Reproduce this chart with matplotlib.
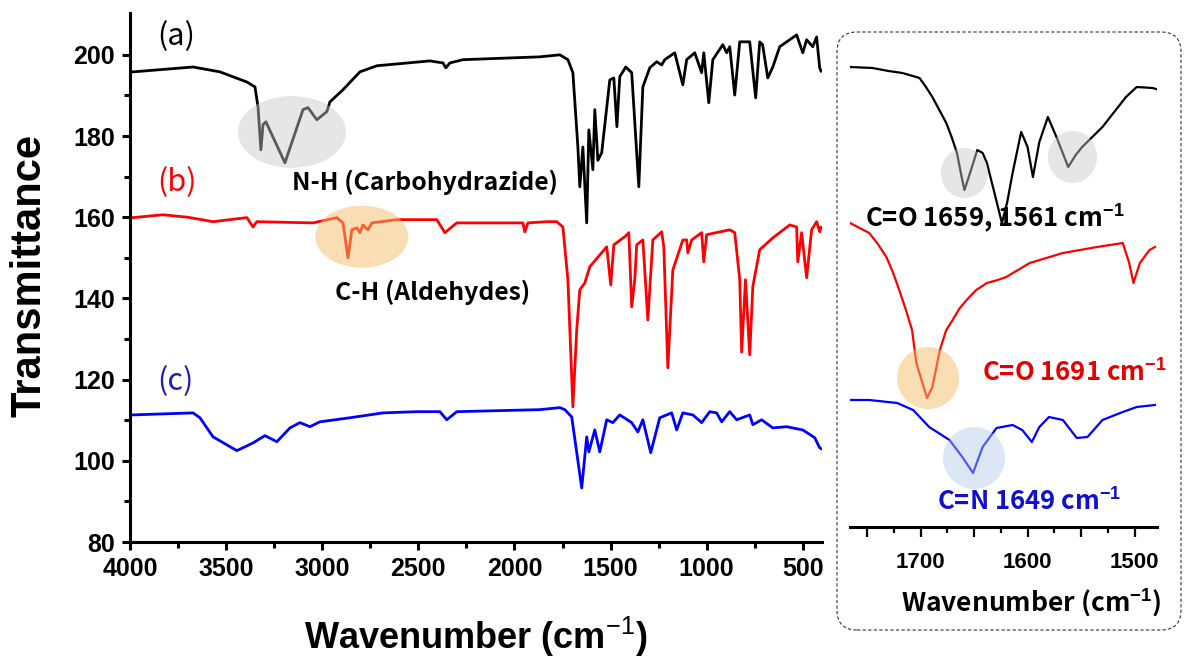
import matplotlib
matplotlib.use("Agg")
import matplotlib.pyplot as plt
from matplotlib.patches import Ellipse, FancyBboxPatch
import numpy as np

plt.rcParams['font.family'] = ['Liberation Sans', 'DejaVu Sans']
plt.rcParams['mathtext.fontset'] = 'custom'
plt.rcParams['mathtext.rm'] = 'Liberation Sans'
plt.rcParams['mathtext.bf'] = 'Liberation Sans:bold'
KR = ['Noto Sans CJK KR', 'DejaVu Sans']

# ---- main spectra (wavenumber, transmittance) ----
spec_a = [(4000, 195.8), (3984, 195.8), (3672, 197.0), (3532, 195.8), (3392, 193.3), (3350, 192.1),
          (3334, 187.2), (3319, 176.6), (3308, 182.8), (3293, 183.5), (3194, 173.4), (3100, 186.5),
          (3074, 187.0), (3028, 184.0), (2976, 186.0), (2960, 188.4), (2892, 191.4), (2804, 195.8),
          (2716, 197.3), (2440, 198.5), (2372, 198.0), (2357, 196.8), (2336, 198.0), (2268, 198.8),
          (1868, 199.5), (1764, 200.0), (1722, 198.8), (1696, 195.6), (1670, 177.3), (1660, 167.5),
          (1644, 177.3), (1624, 158.6), (1613, 181.5), (1592, 171.7), (1582, 186.5), (1566, 174.0),
          (1546, 175.9), (1504, 193.8), (1483, 194.3), (1467, 182.3), (1452, 194.6), (1421, 197.0),
          (1390, 195.6), (1353, 167.5), (1332, 192.1), (1296, 196.8), (1260, 198.3), (1234, 197.5),
          (1218, 198.8), (1166, 200.5), (1124, 192.6), (1104, 198.8), (1062, 200.5), (1026, 195.6),
          (1015, 200.5), (989, 188.2), (968, 198.8), (916, 202.5), (896, 200.5), (880, 202.0),
          (854, 190.1), (828, 203.2), (776, 203.2), (745, 189.4), (724, 203.2), (709, 202.5),
          (682, 194.3), (656, 197.0), (620, 202.0), (532, 204.9), (500, 200.5), (480, 203.7),
          (448, 202.0), (428, 204.4), (412, 196.8), (405, 196.0)]

spec_b = [(4000, 159.9), (3984, 159.9), (3828, 160.6), (3700, 160.0), (3568, 158.9), (3392, 159.9),
          (3360, 157.6), (3340, 158.9), (3048, 158.6), (2924, 159.9), (2892, 158.6), (2866, 150.0),
          (2846, 156.9), (2820, 157.4), (2804, 156.2), (2788, 158.1), (2762, 156.9), (2742, 158.6),
          (2612, 159.4), (2404, 159.4), (2362, 156.2), (2300, 158.6), (1956, 158.6), (1946, 156.4),
          (1930, 158.6), (1832, 158.9), (1780, 158.9), (1748, 157.6), (1722, 144.6), (1696, 113.3),
          (1676, 132.3), (1660, 142.1), (1634, 143.8), (1608, 147.8), (1520, 152.7), (1499, 143.3),
          (1483, 153.2), (1426, 155.2), (1405, 156.2), (1390, 137.9), (1374, 144.6), (1364, 153.2),
          (1332, 154.4), (1306, 134.7), (1280, 154.4), (1234, 156.4), (1223, 152.7), (1202, 122.9),
          (1176, 147.0), (1124, 154.4), (1104, 154.4), (1098, 151.2), (1078, 154.4), (1026, 156.2),
          (1015, 149.0), (1000, 155.7), (880, 156.9), (854, 156.2), (828, 144.6), (818, 126.8),
          (798, 144.6), (776, 126.1), (760, 142.9), (724, 152.0), (656, 154.9), (568, 158.1),
          (532, 157.6), (526, 149.0), (506, 156.2), (480, 145.1), (454, 156.9), (428, 158.9),
          (412, 156.4), (405, 157.5)]

spec_c = [(4000, 111.3), (3990, 111.3), (3672, 111.8), (3636, 110.6), (3568, 105.9), (3444, 102.5),
          (3360, 104.4), (3298, 106.2), (3236, 104.7), (3168, 108.1), (3116, 109.4), (3064, 108.4),
          (3012, 109.6), (2856, 110.6), (2684, 111.8), (2508, 112.1), (2388, 112.1), (2352, 110.1),
          (2300, 112.1), (1868, 112.6), (1764, 113.1), (1738, 112.6), (1702, 110.8), (1650, 93.3),
          (1624, 105.9), (1613, 102.2), (1582, 107.6), (1556, 102.2), (1520, 110.1), (1488, 109.4),
          (1452, 111.3), (1390, 109.4), (1358, 107.1), (1332, 110.1), (1291, 102.0), (1244, 110.6),
          (1182, 111.8), (1156, 107.6), (1124, 111.8), (1072, 111.3), (1026, 109.4), (984, 112.1),
          (948, 111.8), (922, 109.6), (880, 112.1), (844, 110.1), (776, 111.3), (760, 108.9),
          (714, 110.1), (656, 108.1), (584, 108.4), (500, 107.6), (438, 105.7), (412, 103.2),
          (405, 103.0)]

# ---- inset (1766-1480 cm-1), arbitrary offset units ----
ins_a = [(1766, 460), (1745, 459), (1730, 456), (1717, 454), (1701, 449), (1695, 440), (1689, 430),
         (1683, 418), (1676, 404), (1671, 390), (1666, 374), (1662, 352), (1659, 337), (1655, 350),
         (1652, 360), (1647, 377), (1642, 374), (1638, 364), (1630, 330), (1624, 304), (1619, 325),
         (1614, 354), (1606, 395), (1600, 380), (1595, 350), (1589, 385), (1581, 410), (1573, 390),
         (1562, 360), (1555, 372), (1549, 380), (1530, 400), (1508, 430), (1498, 440), (1483, 439),
         (1480, 438)]
ins_b = [(1766, 304), (1748, 294), (1740, 283), (1732, 270), (1726, 255), (1720, 237), (1714, 218),
         (1708, 197), (1704, 164), (1694, 129), (1689, 140), (1682, 177), (1676, 197), (1670, 207),
         (1664, 218), (1657, 227), (1648, 237), (1638, 244), (1628, 247), (1620, 250), (1598, 264),
         (1567, 274), (1535, 280), (1511, 284), (1505, 264), (1501, 244), (1495, 264), (1486, 277),
         (1481, 280)]
ins_c = [(1766, 127), (1748, 127), (1722, 124), (1707, 117), (1692, 100), (1673, 87), (1661, 70),
         (1651, 54), (1642, 80), (1629, 99), (1614, 102), (1605, 97), (1596, 85), (1589, 100),
         (1580, 110), (1567, 107), (1554, 89), (1544, 90), (1530, 107), (1511, 115), (1498, 120),
         (1481, 122)]

W, H = 1187, 661
fig = plt.figure(figsize=(W / 100, H / 100), dpi=100)

# ---------------- main panel ----------------
ax = fig.add_axes([130 / W, 1 - 542 / H, (822 - 130) / W, (542 - 13) / H])
for pts, col in [(spec_a, 'black'), (spec_b, '#ff0000'), (spec_c, '#0000ff')]:
    x, y = zip(*pts)
    ax.plot(x, y, color=col, lw=2.0)

ax.add_patch(Ellipse((3158, 181), 562, 17.7, color='#c8c8c8', alpha=0.45, lw=0, zorder=3))
ax.add_patch(Ellipse((2794, 155.2), 484, 15.3, color='#f5be69', alpha=0.5, lw=0, zorder=3))

ax.set_xlim(4000, 400)
ax.set_ylim(80, 210.3)
ax.set_xticks([4000, 3500, 3000, 2500, 2000, 1500, 1000, 500])
ax.set_xticks(np.arange(3750, 400, -500), minor=True)
ax.set_yticks([80, 100, 120, 140, 160, 180, 200])
ax.set_yticks([90, 110, 130, 150, 170, 190], minor=True)
for s in ['top', 'right']:
    ax.spines[s].set_visible(False)
for s in ['left', 'bottom']:
    ax.spines[s].set_linewidth(2.2)
ax.tick_params(which='major', direction='out', length=6, width=2.2, labelsize=18, pad=5)
ax.tick_params(which='minor', direction='out', length=4, width=2.2)
for lab in ax.get_xticklabels() + ax.get_yticklabels():
    lab.set_fontweight('bold')

ax.text(3860, 204.4, '(a)', color='black', fontsize=22, family=KR, va='center')
ax.text(3860, 168.5, '(b)', color='#ff0000', fontsize=22, family=KR, va='center')
ax.text(3860, 119.5, '(c)', color='#1f1fb0', fontsize=22, family=KR, va='center')
ax.text(3158, 168.7, 'N-H (Carbohydrazide)', fontsize=17.8, family=KR, fontweight='bold', va='center')
ax.text(2934, 141.4, 'C-H (Aldehydes)', fontsize=17.8, family=KR, fontweight='bold', va='center')

fig.text(476 / W, 1 - 637 / H, 'Wavenumber (cm$^{-1}$)', fontsize=26, fontweight='bold',
         ha='center', va='center')
fig.text(30 / W, 1 - 275 / H, 'Transmittance', fontsize=30, fontweight='bold',
         rotation=90, ha='center', va='center')

# ---------------- inset panel ----------------
ia = fig.add_axes([850 / W, 1 - 527 / H, (1157 - 850) / W, (527 - 40) / H])
for pts, col in [(ins_a, 'black'), (ins_b, '#ff0000'), (ins_c, '#0000ff')]:
    x, y = zip(*pts)
    ia.plot(x, y, color=col, lw=1.6)

ia.add_patch(Ellipse((1659, 354), 44, 50, color='#c8c8c8', alpha=0.45, lw=0, zorder=3))
ia.add_patch(Ellipse((1558, 370), 46, 52, color='#c8c8c8', alpha=0.45, lw=0, zorder=3))
ia.add_patch(Ellipse((1693, 149), 58, 62, color='#f5be69', alpha=0.5, lw=0, zorder=3))
ia.add_patch(Ellipse((1650, 69), 58, 62, color='#b4c8eb', alpha=0.45, lw=0, zorder=3))

ia.set_xlim(1766, 1479)
ia.set_ylim(0, 487)
ia.set_xticks([1750, 1700, 1650, 1600, 1550, 1500])
ia.set_xticklabels(['', '1700', '', '1600', '', '1500'])
ia.set_xticks([1725, 1675, 1625, 1575, 1525], minor=True)
ia.set_yticks([])
for s in ['top', 'right', 'left']:
    ia.spines[s].set_visible(False)
ia.spines['bottom'].set_linewidth(2.2)
ia.tick_params(which='major', direction='out', length=7, width=1.6, labelsize=16, pad=11)
ia.tick_params(which='minor', direction='out', length=4, width=1.6)
for lab in ia.get_xticklabels():
    lab.set_fontweight('bold')
ia.patch.set_alpha(0)

sup = '$^{\\mathbf{-1}}$'
ia.text(1752, 309, 'C=O 1659, 1561 cm' + sup, fontsize=18.5, family=KR, fontweight='bold',
        va='center', zorder=5)
ia.text(1643, 154, 'C=O 1691 cm' + sup, fontsize=18.5, family=KR, fontweight='bold',
        color='#e60000', va='center')
ia.text(1685, 25, 'C=N 1649 cm' + sup, fontsize=18.5, family=KR, fontweight='bold',
        color='#1010d0', va='center')

fig.text(1031 / W, 1 - 603 / H, 'Wavenumber (cm' + sup + ')', fontsize=19, family=KR,
         fontweight='bold', ha='center', va='center')

box = FancyBboxPatch((8.37, 0.31), 11.81 - 8.37, 6.29 - 0.31,
                     boxstyle='round,pad=0,rounding_size=0.2', transform=fig.dpi_scale_trans,
                     fill=False, ls=(0, (3, 2)), lw=0.8, ec='#333333')
fig.add_artist(box)

fig.savefig('out.png', dpi=100)
